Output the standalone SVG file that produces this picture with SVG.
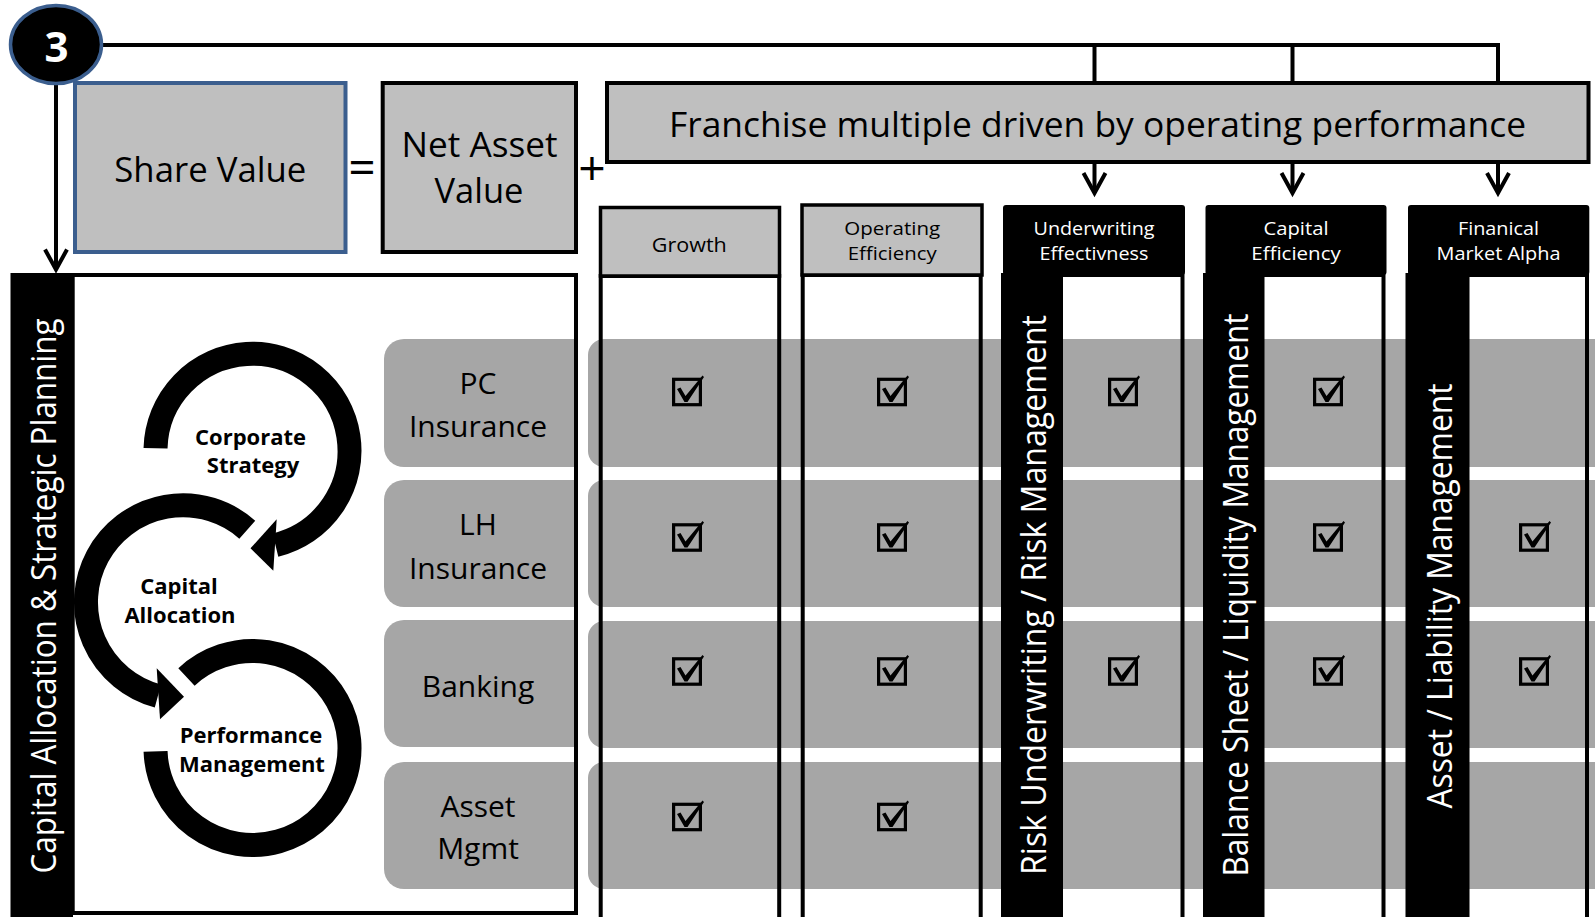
<svg xmlns="http://www.w3.org/2000/svg" xmlns:xlink="http://www.w3.org/1999/xlink" width="1595" height="917" viewBox="0 0 1595 917">
<style>
  text { font-family: "Open Sans", "Noto Sans", "DejaVu Sans", sans-serif; fill: #000; }
  .c { text-anchor: middle; }
  .valbox { fill: #BFBFBF; stroke: #000; stroke-width: 4; }
  .blue { stroke: #3B5E8E; }
  .seg { fill: #A6A6A6; }
  .band { fill: #A6A6A6; }
  .hdr { fill: #BFBFBF; stroke: #000; stroke-width: 3.5; }
  .hdrk { fill: #000; }
  .col { fill: none; stroke: #000; stroke-width: 4; }
  .bar { fill: #000; }
  .wire { fill: none; stroke: #000; stroke-width: 4; }
  .ring { fill: none; stroke: #000; stroke-width: 24; }
  .lbl { font-size: 30px; }
  .big { font-size: 35px; }
  .hl { font-size: 18.5px; }
  .wt { fill: #fff; }
  .vt { font-size: 34px; fill: #fff; text-anchor: middle; }
  .cyc { font-size: 22px; font-weight: 700; text-anchor: middle; }
</style>
<defs>
  <marker id="chev" markerUnits="userSpaceOnUse" markerWidth="32" markerHeight="32" viewBox="-26 -16 32 32" refX="0" refY="0" orient="auto">
    <path d="M-20,-11 L0,0 L-20,11" fill="none" stroke="#000" stroke-width="4"/>
  </marker>
  <g id="tick">
    <rect x="-13.4" y="-12.7" width="26.8" height="25.4" fill="none" stroke="#000" stroke-width="3.2"/>
    <path d="M-10,-3 L-6.5,-4.5 L-1.5,4 L15.5,-16.5 L17,-15 L0.5,10 L-2.5,10 Z" fill="#000"/>
  </g>
</defs>

<!-- value equation -->
<g id="share-value">
  <rect class="valbox blue" x="75" y="83" width="270.5" height="169" stroke-width="3.5"/>
  <text class="c big" x="210.3" y="181.7" textLength="192" lengthAdjust="spacingAndGlyphs">Share Value</text>
</g>
<text class="c" x="362" y="183.5" font-size="48">=</text>
<g id="net-asset-value">
  <rect class="valbox" x="382.7" y="83" width="193.3" height="169"/>
  <text class="c big" x="479.5" y="156.7" textLength="156" lengthAdjust="spacingAndGlyphs">Net Asset</text>
  <text class="c big" x="479" y="203.3" textLength="89" lengthAdjust="spacingAndGlyphs">Value</text>
</g>
<text class="c" x="592" y="184.5" font-size="48">+</text>
<g id="franchise">
  <rect class="valbox" x="607" y="83" width="981.5" height="79"/>
  <text class="c" x="1097.5" y="137" font-size="34" textLength="857" lengthAdjust="spacingAndGlyphs">Franchise multiple driven by operating performance</text>
</g>

<!-- planning panel -->
<g id="planning-panel">
  <rect x="72.7" y="275" width="503.3" height="638" fill="#fff"/>
</g>

<!-- business segments -->
<g id="seg-pc">
  <path class="seg" d="M404,339 H576 V467 H404 A20,20 0 0 1 384,447 V359 A20,20 0 0 1 404,339 Z"/>
  <text class="c lbl" x="478" y="393.5">PC</text>
  <text class="c lbl" x="478" y="437">Insurance</text>
</g>
<g id="seg-lh">
  <path class="seg" d="M404,480 H576 V607 H404 A20,20 0 0 1 384,587 V500 A20,20 0 0 1 404,480 Z"/>
  <text class="c lbl" x="478" y="535">LH</text>
  <text class="c lbl" x="478" y="578.5">Insurance</text>
</g>
<g id="seg-banking">
  <path class="seg" d="M404,620 H576 V747 H404 A20,20 0 0 1 384,727 V640 A20,20 0 0 1 404,620 Z"/>
  <text class="c lbl" x="478" y="696.5">Banking</text>
</g>
<g id="seg-asset">
  <path class="seg" d="M404,762 H576 V889 H404 A20,20 0 0 1 384,869 V782 A20,20 0 0 1 404,762 Z"/>
  <text class="c lbl" x="478" y="816.5">Asset</text>
  <text class="c lbl" x="478" y="858.5">Mgmt</text>
</g>

<g id="planning-frame">
  <rect x="72.7" y="275" width="503.3" height="638" fill="none" stroke="#000" stroke-width="4"/>
  <rect class="bar" x="10.5" y="273" width="62.5" height="644"/>
  <text class="vt" transform="translate(56,596) rotate(-90)" textLength="555" lengthAdjust="spacingAndGlyphs">Capital Allocation &amp; Strategic Planning</text>
</g>

<!-- planning cycle -->
<g id="cycle-strategy">
  <path class="ring" d="M155.53,448.26 A97,97 0 1 1 275.47,545.05"/>
  <polygon points="276.7,519.3 273.3,570.7 250.5,548.3" fill="#000"/>
  <text class="cyc" x="250.5" y="445">Corporate</text>
  <text class="cyc" x="253" y="473">Strategy</text>
</g>
<g id="cycle-allocation">
  <path class="ring" d="M247.27,529.65 A97,97 0 1 0 157.9,695.99"/>
  <polygon points="156.7,668.3 160,719.3 184,696.7" fill="#000"/>
  <text class="cyc" x="179" y="594">Capital</text>
  <text class="cyc" x="180" y="622.5">Allocation</text>
</g>
<g id="cycle-performance">
  <path class="ring" d="M186.47,676.95 A97,97 0 1 1 155.56,751.39"/>
  <text class="cyc" x="251" y="743">Performance</text>
  <text class="cyc" x="252" y="771.5">Management</text>
</g>

<!-- segment rows across the driver columns -->
<g id="rows">
  <rect class="band" x="588" y="339" width="1100" height="128" rx="16"/>
  <rect class="band" x="588" y="480" width="1100" height="127" rx="16"/>
  <rect class="band" x="588" y="621" width="1100" height="127" rx="16"/>
  <rect class="band" x="588" y="762" width="1100" height="127" rx="16"/>
</g>

<!-- value driver columns -->
<g id="col-growth">
  <rect class="col" x="600.7" y="276" width="178.5" height="660"/>
  <rect class="hdr" x="600.5" y="207.5" width="179" height="68.5"/>
  <text class="c" x="689.3" y="251.5" font-size="20" textLength="75" lengthAdjust="spacingAndGlyphs">Growth</text>
</g>
<g id="col-operating">
  <rect class="col" x="802.7" y="275" width="178" height="660"/>
  <rect class="hdr" x="802" y="205" width="180" height="70"/>
  <text class="c hl" x="892.2" y="234.5" textLength="96" lengthAdjust="spacingAndGlyphs">Operating</text>
  <text class="c hl" x="892.2" y="259.5" textLength="89" lengthAdjust="spacingAndGlyphs">Efficiency</text>
</g>
<g id="col-underwriting">
  <rect class="col" x="1003" y="275" width="179.5" height="660"/>
  <rect class="hdrk" x="1003" y="205" width="182" height="70" rx="3"/>
  <rect class="bar" x="1001.5" y="273" width="61.5" height="650"/>
  <text class="c hl wt" x="1094" y="234.5" textLength="121" lengthAdjust="spacingAndGlyphs">Underwriting</text>
  <text class="c hl wt" x="1094" y="259.5" textLength="109" lengthAdjust="spacingAndGlyphs">Effectivness</text>
  <text class="vt" transform="translate(1046,595) rotate(-90)" textLength="560" lengthAdjust="spacingAndGlyphs">Risk Underwriting / Risk Management</text>
</g>
<g id="col-capital">
  <rect class="col" x="1205.5" y="275" width="178" height="660"/>
  <rect class="hdrk" x="1205.5" y="205" width="181" height="70" rx="3"/>
  <rect class="bar" x="1203" y="273" width="61.5" height="650"/>
  <text class="c hl wt" x="1296" y="234.5" textLength="65" lengthAdjust="spacingAndGlyphs">Capital</text>
  <text class="c hl wt" x="1296" y="259.5" textLength="89.5" lengthAdjust="spacingAndGlyphs">Efficiency</text>
  <text class="vt" transform="translate(1247.5,595) rotate(-90)" textLength="563" lengthAdjust="spacingAndGlyphs">Balance Sheet / Liquidity Management</text>
</g>
<g id="col-market">
  <rect class="col" x="1408" y="275" width="179" height="660"/>
  <rect class="hdrk" x="1408" y="205" width="181.3" height="70" rx="3"/>
  <rect class="bar" x="1405.5" y="273" width="64" height="650"/>
  <text class="c hl wt" x="1498.5" y="234.5" textLength="81" lengthAdjust="spacingAndGlyphs">Finanical</text>
  <text class="c hl wt" x="1498.5" y="259.5" textLength="124" lengthAdjust="spacingAndGlyphs">Market Alpha</text>
  <text class="vt" transform="translate(1451.5,596) rotate(-90)" textLength="425" lengthAdjust="spacingAndGlyphs">Asset / Liability Management</text>
</g>

<!-- check marks: segment x driver -->
<g id="checks">
  <use xlink:href="#tick" href="#tick" transform="translate(687,392)"/>
  <use xlink:href="#tick" href="#tick" transform="translate(892,392)"/>
  <use xlink:href="#tick" href="#tick" transform="translate(1123,392)"/>
  <use xlink:href="#tick" href="#tick" transform="translate(1328,392)"/>

  <use xlink:href="#tick" href="#tick" transform="translate(687,537.5)"/>
  <use xlink:href="#tick" href="#tick" transform="translate(892,537.5)"/>
  <use xlink:href="#tick" href="#tick" transform="translate(1328,537.5)"/>
  <use xlink:href="#tick" href="#tick" transform="translate(1534,537.5)"/>

  <use xlink:href="#tick" href="#tick" transform="translate(687,671.5)"/>
  <use xlink:href="#tick" href="#tick" transform="translate(892,671.5)"/>
  <use xlink:href="#tick" href="#tick" transform="translate(1123,671.5)"/>
  <use xlink:href="#tick" href="#tick" transform="translate(1328,671.5)"/>
  <use xlink:href="#tick" href="#tick" transform="translate(1534,671.5)"/>

  <use xlink:href="#tick" href="#tick" transform="translate(687,817)"/>
  <use xlink:href="#tick" href="#tick" transform="translate(892,817)"/>
</g>

<!-- connectors -->
<g id="connectors">
  <path class="wire" d="M100,45 H1498 V83"/>
  <path class="wire" d="M1094.5,45 V83"/>
  <path class="wire" d="M1292.5,45 V83"/>
  <path class="wire" d="M1094.5,162 V193" marker-end="url(#chev)"/>
  <path class="wire" d="M1292.5,162 V193" marker-end="url(#chev)"/>
  <path class="wire" d="M1498,162 V193" marker-end="url(#chev)"/>
  <path class="wire" d="M56,84 V269.5" marker-end="url(#chev)"/>
</g>

<!-- step badge -->
<g id="step-3">
  <ellipse cx="56" cy="44.5" rx="45.5" ry="39" fill="#000" stroke="#3B5E8E" stroke-width="3.5"/>
  <text class="c wt" x="56.5" y="61.5" font-size="42" font-weight="700">3</text>
</g>
</svg>
